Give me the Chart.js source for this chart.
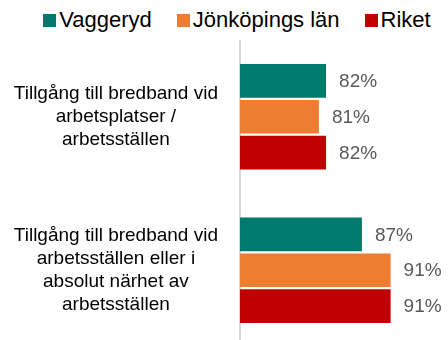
<!DOCTYPE html>
<html lang="sv">
<head>
    <meta charset="UTF-8">
    <title>Bredband vid arbetsställen</title>
    <script src="https://cdn.jsdelivr.net/npm/chart.js"></script>
    <style>
        html, body {
            margin: 0;
            padding: 0;
            overflow: hidden;
            background: #fff;
            font-family: "Liberation Sans", Arial, sans-serif;
        }
        .wrap {
            width: 448px;
            height: 347px;
            position: relative;
        }
        #legend {
            height: 40px;
            display: flex;
            justify-content: center;
            align-items: center;
            font-size: 22px;
            color: #000;
            padding-left: 26px;
            box-sizing: border-box;
        }
        #legend .item {
            display: flex;
            align-items: center;
            margin-right: 25px;
        }
        #legend .item:last-child { margin-right: 0; }
        #legend .box {
            width: 13px;
            height: 13px;
            margin-right: 3px;
        }
        .chartBox {
            width: 448px;
            height: 307px;
        }
    </style>
</head>
<body>
    <div class="wrap">
        <div id="legend"></div>
        <div class="chartBox"><canvas id="bbChart"></canvas></div>
    </div>
    <script>
        const categories = [
            ["Tillgång till bredband vid", "arbetsplatser /", "arbetsställen"],
            ["Tillgång till bredband vid", "arbetsställen eller i", "absolut närhet av", "arbetsställen"]
        ];
        const seriesNames = ["Vaggeryd", "Jönköpings län", "Riket"];
        const vaggeryd = [82, 87];
        const jonkopingsLan = [81, 91];
        const riket = [82, 91];
        const colors = ["#007A6C", "#ED7D31", "#C00000"];

        const valueLabels = {
            id: "valueLabels",
            afterDatasetsDraw(chart) {
                const ctx = chart.ctx;
                ctx.save();
                ctx.font = "19px 'Liberation Sans', Arial, sans-serif";
                ctx.fillStyle = "#595959";
                ctx.textAlign = "left";
                ctx.textBaseline = "middle";
                chart.data.datasets.forEach((ds, i) => {
                    chart.getDatasetMeta(i).data.forEach((bar, j) => {
                        ctx.fillText(ds.data[j] + "%", bar.x + 13, bar.y + 1);
                    });
                });
                ctx.restore();
            }
        };

        const ctx = document.getElementById("bbChart").getContext("2d");
        const chart = new Chart(ctx, {
            type: "bar",
            data: {
                labels: categories,
                datasets: [vaggeryd, jonkopingsLan, riket].map((d, i) => ({
                    label: seriesNames[i],
                    data: d,
                    backgroundColor: colors[i],
                    categoryPercentage: 0.70,
                    barPercentage: 0.94
                }))
            },
            options: {
                indexAxis: "y",
                responsive: true,
                maintainAspectRatio: false,
                animation: false,
                layout: { padding: 0 },
                plugins: {
                    legend: { display: false },
                    tooltip: { enabled: false }
                },
                scales: {
                    x: {
                        display: false,
                        min: 70,
                        max: 99
                    },
                    y: {
                        grid: { display: false, drawTicks: false },
                        border: { display: true, color: "#d9d9d9", width: 2 },
                        ticks: {
                            crossAlign: "center",
                            padding: 22,
                            color: "#000",
                            font: { family: "'Liberation Sans', Arial, sans-serif", size: 19 }
                        },
                        afterFit(scale) {
                            scale.width = 240;
                            // labels may overhang the plot, no extra room above/below
                            scale.paddingTop = 0;
                            scale.paddingBottom = 0;
                        }
                    }
                }
            },
            plugins: [valueLabels]
        });

        // legend built from the datasets
        const legendEl = document.getElementById("legend");
        chart.data.datasets.forEach(ds => {
            const item = document.createElement("div");
            item.className = "item";
            const box = document.createElement("span");
            box.className = "box";
            box.style.background = ds.backgroundColor;
            const txt = document.createElement("span");
            txt.textContent = ds.label;
            item.appendChild(box);
            item.appendChild(txt);
            legendEl.appendChild(item);
        });
    </script>
</body>
</html>
